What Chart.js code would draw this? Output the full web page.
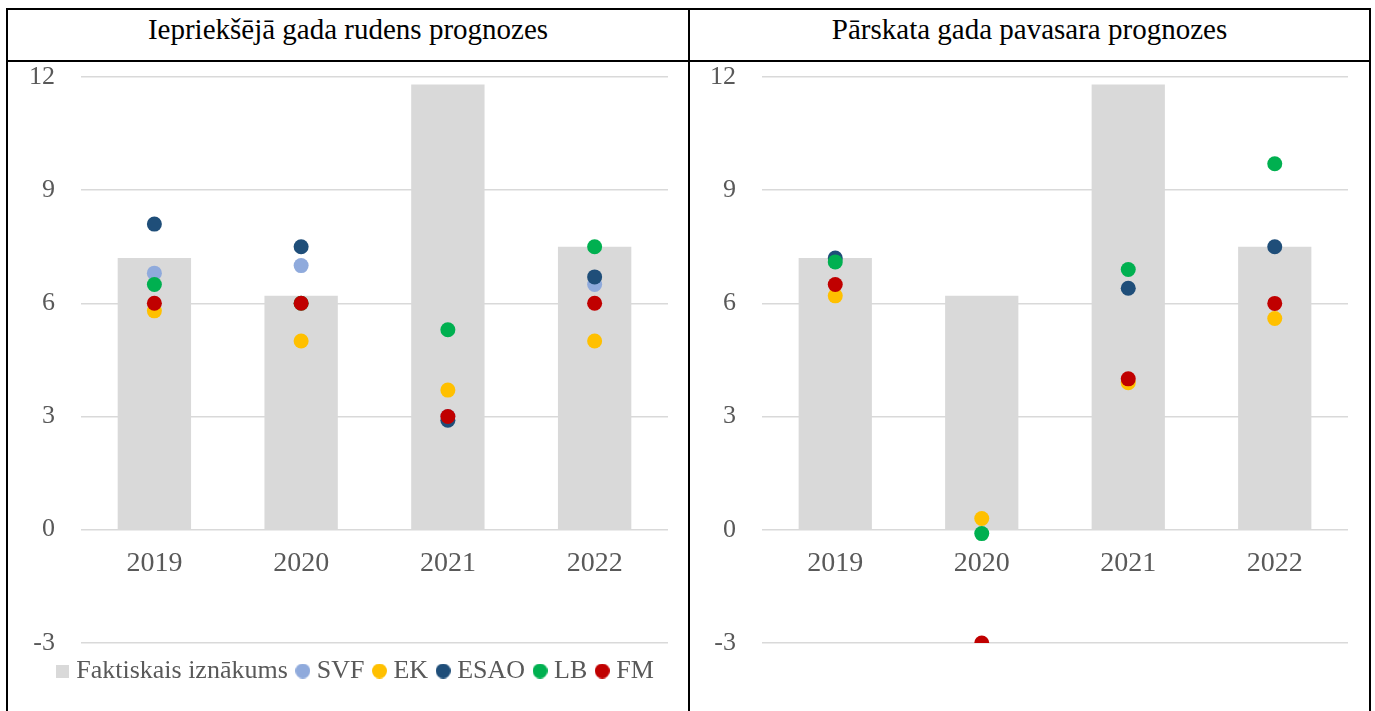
<!DOCTYPE html>
<html>
<head>
<meta charset="utf-8">
<script src="https://cdn.jsdelivr.net/npm/chart.js@4/dist/chart.umd.min.js"></script>
<style>
  body { margin: 0; background: #fff; width: 1375px; height: 711px; overflow: hidden; position: relative; }
  .line { position: absolute; background: #000; }
  .head {
    position: absolute; top: 15px; height: 29px; line-height: 29px;
    font-family: "Liberation Serif", "Times New Roman", serif; font-size: 29px;
    color: #000; text-align: center; white-space: nowrap;
  }
  canvas { position: absolute; top: 62px; }
</style>
</head>
<body>
<div class="line" style="left:6px; top:8px; width:1365px; height:2px"></div>
<div class="line" style="left:6px; top:60px; width:1365px; height:2px"></div>
<div class="line" style="left:6px; top:8px; width:2px; height:720px"></div>
<div class="line" style="left:688px; top:8px; width:2px; height:720px"></div>
<div class="line" style="left:1369px; top:8px; width:2px; height:720px"></div>

<div class="head" style="left:8px; width:680px">Iepriekšējā gada rudens prognozes</div>
<div class="head" style="left:690px; width:679px">Pārskata gada pavasara prognozes</div>

<canvas id="autumn" width="680" height="649" style="left:8px"></canvas>
<canvas id="spring" width="679" height="649" style="left:690px"></canvas>

<script>
const years = ["2019", "2020", "2021", "2022"];
const yTicks = [-3, 0, 3, 6, 9, 12];
const seriesNames = ["SVF", "EK", "ESAO", "LB", "FM"];
const seriesColors = ["#8faadc", "#ffc000", "#1f4e79", "#00b050", "#c00000"];
const barColor = "#d9d9d9";

// faktiskais iznākums (same in both panels)
const actual = [7.2, 6.2, 11.8, 7.5];

// previous year autumn forecasts
const autumnSVF = [6.8, 7.0, 3.0, 6.5];
const autumnEK = [5.8, 5.0, 3.7, 5.0];
const autumnESAO = [8.1, 7.5, 2.9, 6.7];
const autumnLB = [6.5, 6.0, 5.3, 7.5];
const autumnFM = [6.0, 6.0, 3.0, 6.0];

// current year spring forecasts
const springSVF = [null, null, null, null];
const springEK = [6.2, 0.3, 3.9, 5.6];
const springESAO = [7.2, null, 6.4, 7.5];
const springLB = [7.1, -0.1, 6.9, 9.7];
const springFM = [6.5, -3.0, 4.0, 6.0];

const fontFamily = '"Liberation Serif", "Times New Roman", serif';
const grey = "#595959";

// small marker pictures for the legend, so the gaps stay tight like in Excel
function marker(color, square) {
  const c = document.createElement("canvas");
  c.width = square ? 13 : 15;
  c.height = square ? 13 : 15;
  const ctx = c.getContext("2d");
  ctx.fillStyle = color;
  if (square) {
    ctx.fillRect(0, 0, 13, 13);
  } else {
    ctx.beginPath();
    ctx.arc(7.5, 7.5, 7.5, 0, Math.PI * 2);
    ctx.fill();
  }
  return c;
}
const legendMarkers = [marker(barColor, true)].concat(seriesColors.map((c) => marker(c, false)));

function makeChart(id, forecasts, showLegend, pad, axisWidth) {
  const datasets = [
    {
      type: "bar",
      label: "Faktiskais iznākums",
      data: actual,
      backgroundColor: barColor,
      barPercentage: 0.5,
      categoryPercentage: 1,
      order: 10,
    },
  ];
  forecasts.forEach((values, i) => {
    datasets.push({
      type: "line",
      label: seriesNames[i],
      data: values,
      showLine: false,
      pointRadius: 7.5,
      pointHoverRadius: 7.5,
      pointBorderWidth: 0,
      pointBackgroundColor: seriesColors[i],
      borderColor: seriesColors[i],
      backgroundColor: seriesColors[i],
      order: 5 - i,
    });
  });

  return new Chart(document.getElementById(id), {
    type: "bar",
    data: { labels: years, datasets: datasets },
    options: {
      responsive: false,
      animation: false,
      layout: { padding: pad },
      plugins: {
        tooltip: { enabled: false },
        legend: {
          display: showLegend,
          position: "bottom",
          title: { display: true, text: "", font: { size: 1 }, padding: 0 },
          labels: {
            usePointStyle: true,
            boxWidth: 2,
            boxHeight: 10,
            padding: 14,
            color: grey,
            font: { family: fontFamily, size: 26 },
            sort: (a, b) => a.datasetIndex - b.datasetIndex,
            generateLabels: (chart) =>
              Chart.defaults.plugins.legend.labels.generateLabels(chart).map((item) => {
                item.pointStyle = legendMarkers[item.datasetIndex];
                return item;
              }),
          },
        },
      },
      scales: {
        x: {
          position: { y: 0 },
          grid: { display: false, drawTicks: false },
          border: { display: false },
          ticks: {
            color: grey,
            padding: 17,
            font: { family: fontFamily, size: 28 },
          },
        },
        y: {
          min: yTicks[0],
          max: yTicks[yTicks.length - 1],
          grid: { color: "#d9d9d9", lineWidth: 1.5, drawTicks: false },
          border: { display: false },
          ticks: {
            stepSize: yTicks[1] - yTicks[0],
            color: grey,
            // mirrored labels are not clipped to the axis box; pulled back left of the plot
            mirror: true,
            crossAlign: "far",
            padding: -52,
            font: { family: fontFamily, size: 26 },
          },
          afterFit: (scale) => {
            scale.width = axisWidth;
            scale.paddingTop = 0;
            scale.paddingBottom = 0;
          },
        },
      },
    },
  });
}

makeChart(
  "autumn",
  [autumnSVF, autumnEK, autumnESAO, autumnLB, autumnFM],
  true,
  { left: 39, right: 20, top: 15, bottom: 17 },
  34
);
makeChart(
  "spring",
  [springSVF, springEK, springESAO, springLB, springFM],
  false,
  { left: 30, right: 21, top: 15, bottom: 68 },
  42
);
</script>
</body>
</html>
